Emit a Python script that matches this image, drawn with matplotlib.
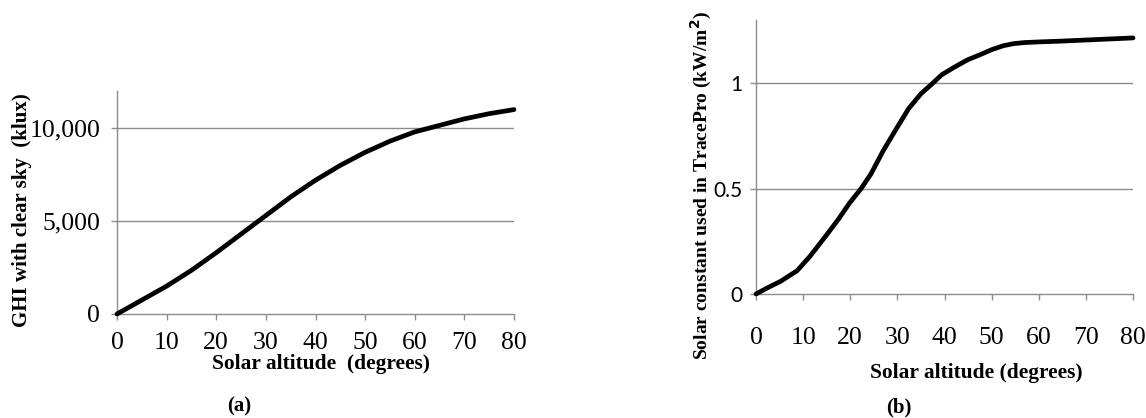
import matplotlib
matplotlib.use("Agg")
import matplotlib.pyplot as plt
import numpy as np

# Panel (a): GHI with clear sky vs solar altitude
alt_a = [0, 5, 10, 15, 20, 25, 30, 35, 40, 45, 50, 55, 60, 65, 70, 75, 80]
ghi_a = [0, 750, 1500, 2350, 3300, 4300, 5300, 6300, 7200, 8000, 8700, 9300, 9800, 10150, 10500, 10780, 11000]
yticks_a = [0, 5000, 10000]
yticklabels_a = ["0", "5,000", "10,000"]

# Panel (b): solar constant used in TracePro vs solar altitude
alt_b = [0, 2.5, 5.2, 8.7, 11.5, 14.8, 17.5, 19.8, 22.3, 24.4, 27, 29.4, 32.4, 35, 37.5, 39.4, 42, 44.8, 47.5, 50.1, 52.5, 54.7, 57, 60, 65, 70, 75, 80]
sc_b = [0, 0.03, 0.06, 0.11, 0.18, 0.275, 0.355, 0.43, 0.50, 0.57, 0.68, 0.77, 0.88, 0.95, 1.0, 1.04, 1.075, 1.11, 1.135, 1.16, 1.178, 1.188, 1.193, 1.196, 1.20, 1.205, 1.21, 1.215]
yticks_b = [0, 0.5, 1]
yticklabels_b = ["0", "0.5", "1"]

xticks = [0, 10, 20, 30, 40, 50, 60, 70, 80]

SERIF = ["Liberation Serif", "DejaVu Serif"]
SANS = ["Lato", "DejaVu Sans"]
GRID = "#8c8c8c"

fig = plt.figure(figsize=(11.46, 4.18), dpi=100)

def style(ax):
    for s in ["top", "right"]:
        ax.spines[s].set_visible(False)
    for s in ["left", "bottom"]:
        ax.spines[s].set_color(GRID)
        ax.spines[s].set_linewidth(1.0)
    ax.tick_params(axis="both", direction="out", length=4, width=1, color=GRID)
    ax.set_xticks(xticks)
    ax.set_xlim(0, 80)

# ---- panel (a)
axa = fig.add_axes([117/1146, 1-314/418, (514-117)/1146, (314-91)/418])
style(axa)
axa.set_ylim(0, 12000)
axa.set_yticks(yticks_a)
axa.set_yticklabels(yticklabels_a, family=SERIF, fontsize=18.5)
axa.set_xticklabels([str(x) for x in xticks], family=SERIF, fontsize=18.5)
axa.tick_params(axis="x", pad=9)
axa.tick_params(axis="y", pad=8)
for y in yticks_a[1:]:
    axa.axhline(y, color=GRID, lw=1.0, zorder=1)
axa.plot(alt_a, ghi_a, color="black", lw=3.4, solid_capstyle="round", zorder=3, clip_on=False)
fig.text(22/1146, 1-210/418, "GHI with clear sky  (klux)", rotation=90, ha="center", va="center",
         family=SERIF, fontweight="bold", fontsize=15)
fig.text(321/1146, 1-364/418, "Solar altitude  (degrees)", ha="center", va="center",
         family=SERIF, fontweight="bold", fontsize=15.4)
fig.text(239/1146, 1-406/418, "(a)", ha="center", va="center",
         family=SERIF, fontweight="bold", fontsize=15)

# ---- panel (b)
axb = fig.add_axes([756/1146, 1-294/418, (1133-756)/1146, (294-20)/418])
style(axb)
axb.set_ylim(0, 1.3)
axb.set_yticks(yticks_b)
axb.set_yticklabels(yticklabels_b, family=SANS, fontsize=15)
axb.set_xticklabels([str(x) for x in xticks], family=SERIF, fontsize=18.5)
axb.tick_params(axis="x", pad=20)
axb.tick_params(axis="y", pad=6)
for y in yticks_b[1:]:
    axb.axhline(y, color=GRID, lw=1.0, zorder=1)
axb.plot(alt_b, sc_b, color="black", lw=3.4, solid_capstyle="round", zorder=3, clip_on=False)
fig.text(701/1146, 1-186/418, "Solar constant used in TracePro (kW/m$^\\mathbf{2}$)", rotation=90,
         ha="center", va="center", family=SERIF, fontweight="bold", fontsize=14)
fig.text(976/1146, 1-373/418, "Solar altitude (degrees)", ha="center", va="center",
         family=SERIF, fontweight="bold", fontsize=15.4)
fig.text(899/1146, 1-407/418, "(b)", ha="center", va="center",
         family=SERIF, fontweight="bold", fontsize=15)

fig.savefig("out.png", dpi=100)
